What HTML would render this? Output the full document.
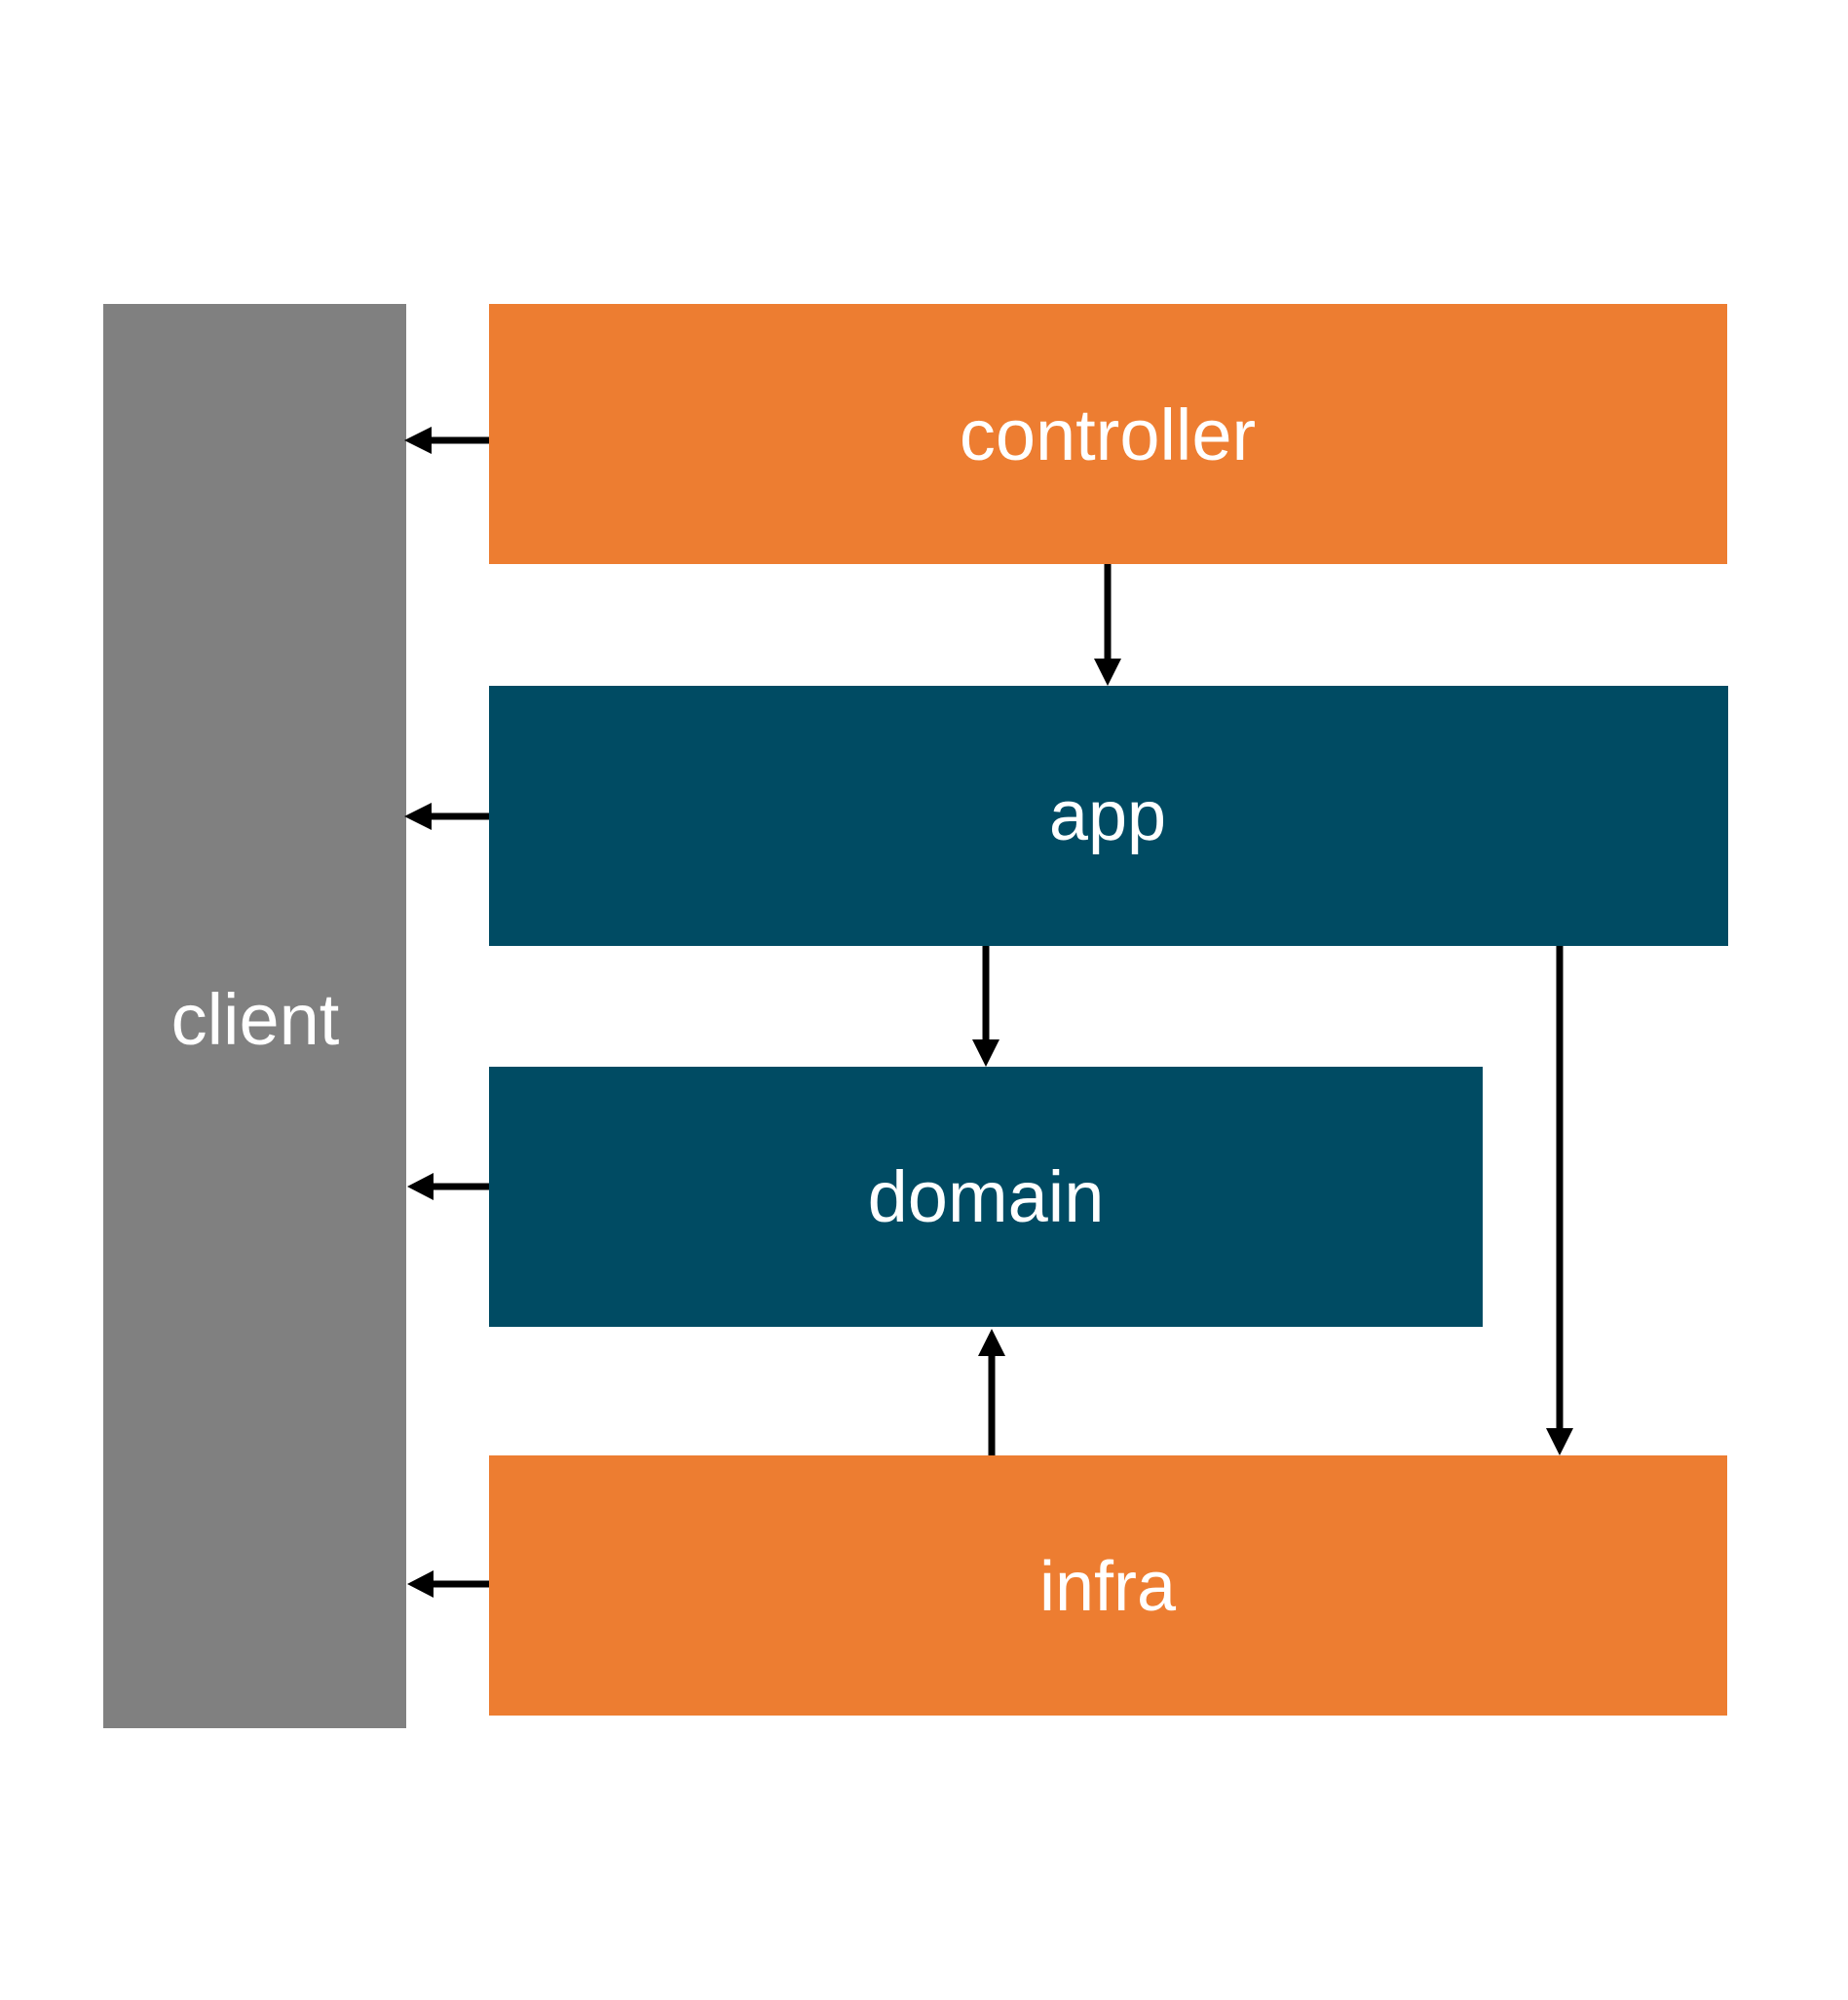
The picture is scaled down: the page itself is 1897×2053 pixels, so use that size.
<!DOCTYPE html>
<html><head><meta charset="utf-8"><style>
html,body{margin:0;padding:0;background:#fff;}
</style></head><body>
<svg width="1897" height="2053" xmlns="http://www.w3.org/2000/svg" style="display:block">
<rect width="1897" height="2053" fill="#fff"/>
<rect x="106" y="312" width="311" height="1462" fill="#808080"/>
<rect x="502" y="312" width="1271" height="267" fill="#ED7D31"/>
<rect x="502" y="704" width="1272" height="267" fill="#004B63"/>
<rect x="502" y="1095" width="1020" height="267" fill="#004B63"/>
<rect x="502" y="1494" width="1271" height="267" fill="#ED7D31"/>
<g font-family="Liberation Sans, DejaVu Sans, sans-serif" font-size="72" fill="#fff" text-anchor="middle">
<text x="262" y="1072" font-size="74">client</text>
<text x="1137" y="472" font-size="74">controller</text>
<text x="1137" y="862">app</text>
<text x="1012" y="1254" font-size="74">domain</text>
<text x="1137" y="1653">infra</text>
</g>
<g stroke="#000" stroke-width="7" fill="none">
<line x1="502" y1="452" x2="440" y2="452"/>
<line x1="502" y1="838" x2="440" y2="838"/>
<line x1="502" y1="1218" x2="442" y2="1218"/>
<line x1="502" y1="1626" x2="442" y2="1626"/>
<line x1="1137" y1="579" x2="1137" y2="680"/>
<line x1="1012" y1="971" x2="1012" y2="1072"/>
<line x1="1018" y1="1494" x2="1018" y2="1387"/>
<line x1="1601" y1="971" x2="1601" y2="1470"/>
</g>
<g fill="#000">
<polygon points="415,452 443,438 443,466"/>
<polygon points="415,838 443,824 443,852"/>
<polygon points="418,1218 445,1204 445,1232"/>
<polygon points="418,1626 445,1612 445,1640"/>
<polygon points="1137,704 1123,676 1151,676"/>
<polygon points="1012,1095 998,1067 1026,1067"/>
<polygon points="1018,1364 1004,1392 1032,1392"/>
<polygon points="1601,1494 1587,1466 1615,1466"/>
</g>
</svg>
</body></html>
